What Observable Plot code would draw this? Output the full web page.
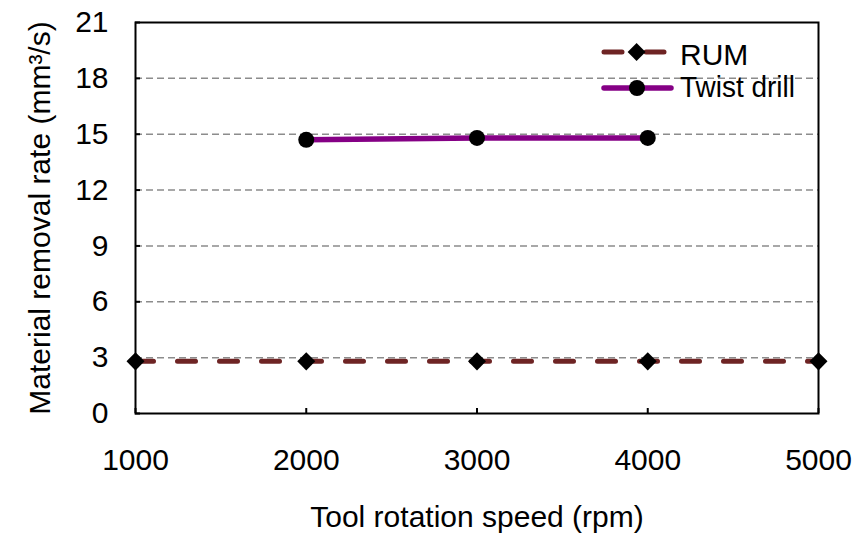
<!DOCTYPE html>
<html>
<head>
<meta charset="utf-8">
<script src="https://cdn.jsdelivr.net/npm/d3@7"></script>
<script src="https://cdn.jsdelivr.net/npm/@observablehq/plot@0.6"></script>
<style>
  html, body { margin: 0; padding: 0; background: #fff; }
  #wrap { position: relative; width: 859px; height: 542px; font-family: Arial, "Liberation Sans", sans-serif; }
  #legend { position: absolute; left: 0; top: 0; pointer-events: none; }
</style>
</head>
<body>
<div id="wrap"></div>
<script>
const speeds = [1000, 2000, 3000, 4000, 5000];
const rumValues = [2.8, 2.8, 2.8, 2.8, 2.8];
const twistSpeeds = [2000, 3000, 4000];
const twistValues = [14.7, 14.8, 14.8];
const yTicks = [0, 3, 6, 9, 12, 15, 18, 21];
const gridValues = [3, 6, 9, 12, 15, 18];
const xTicks = [1000, 2000, 3000, 4000, 5000];
const seriesNames = ["RUM", "Twist drill"];

const rum = speeds.map((s, i) => ({speed: s, value: rumValues[i]}));
const twist = twistSpeeds.map((s, i) => ({speed: s, value: twistValues[i]}));

const FONT = "Arial, 'Liberation Sans', sans-serif";
const RUM_COLOR = "#6e2424";
const TWIST_COLOR = "#850085";

const chart = Plot.plot({
  width: 859,
  height: 542,
  marginLeft: 135,
  marginRight: 41,
  marginTop: 22,
  marginBottom: 129,
  style: {fontFamily: FONT, fontSize: "30px", color: "#000", background: "#fff"},
  x: {domain: [1000, 5000]},
  y: {domain: [0, 21]},
  marks: [
    Plot.ruleY(gridValues, {stroke: "#8c8c8c", strokeWidth: 1.5, strokeDasharray: "7,4"}),
    Plot.axisX({ticks: xTicks, tickSize: 0, tickPadding: 35, fontSize: 30, tickFormat: d => String(d),
      label: "Tool rotation speed (rpm)", labelAnchor: "center", labelArrow: "none", labelOffset: 113}),
    Plot.axisY({ticks: yTicks, tickSize: 0, tickPadding: 27, fontSize: 30, tickFormat: d => String(d),
      label: "Material removal rate (mm³/s)", labelAnchor: "center", labelArrow: "none", labelOffset: 107}),
    Plot.axisX({ticks: xTicks, tickSize: -5, tickFormat: () => "", label: null, strokeWidth: 2}),
    Plot.axisY({ticks: yTicks, tickSize: -5, tickFormat: () => "", label: null, strokeWidth: 2}),
    Plot.frame({stroke: "#000", strokeWidth: 2}),
    Plot.line(rum, {x: "speed", y: "value", stroke: RUM_COLOR, strokeWidth: 5, strokeDasharray: "18,24", strokeLinecap: "round"}),
    Plot.line(twist, {x: "speed", y: "value", stroke: TWIST_COLOR, strokeWidth: 5.5}),
    Plot.dot(rum, {x: "speed", y: "value", symbol: "square", rotate: 45, r: 7.2, fill: "#000", stroke: "none"}),
    Plot.dot(twist, {x: "speed", y: "value", symbol: "circle", r: 8, fill: "#000", stroke: "none"})
  ]
});

const wrap = document.getElementById("wrap");
wrap.appendChild(chart);

// Legend (top right, inside plot area)
const ns = "http://www.w3.org/2000/svg";
const leg = document.createElementNS(ns, "svg");
leg.setAttribute("id", "legend");
leg.setAttribute("width", 859);
leg.setAttribute("height", 542);
leg.innerHTML = `
  <g font-family="${FONT}" font-size="30" fill="#000">
    <line x1="604" y1="52" x2="668" y2="52" stroke="${RUM_COLOR}" stroke-width="5" stroke-dasharray="18,24" stroke-linecap="round"/>
    <rect x="630" y="46" width="12.7" height="12.7" fill="#000" transform="rotate(45 636.35 52.35) translate(0 -0.35)"/>
    <text x="680" y="65">${seriesNames[0]}</text>
    <line x1="604" y1="88" x2="671" y2="88" stroke="${TWIST_COLOR}" stroke-width="5.5" stroke-linecap="round"/>
    <circle cx="637" cy="88" r="8" fill="#000"/>
    <text x="680" y="97" textLength="115" lengthAdjust="spacingAndGlyphs">${seriesNames[1]}</text>
  </g>`;
wrap.appendChild(leg);
</script>
</body>
</html>
